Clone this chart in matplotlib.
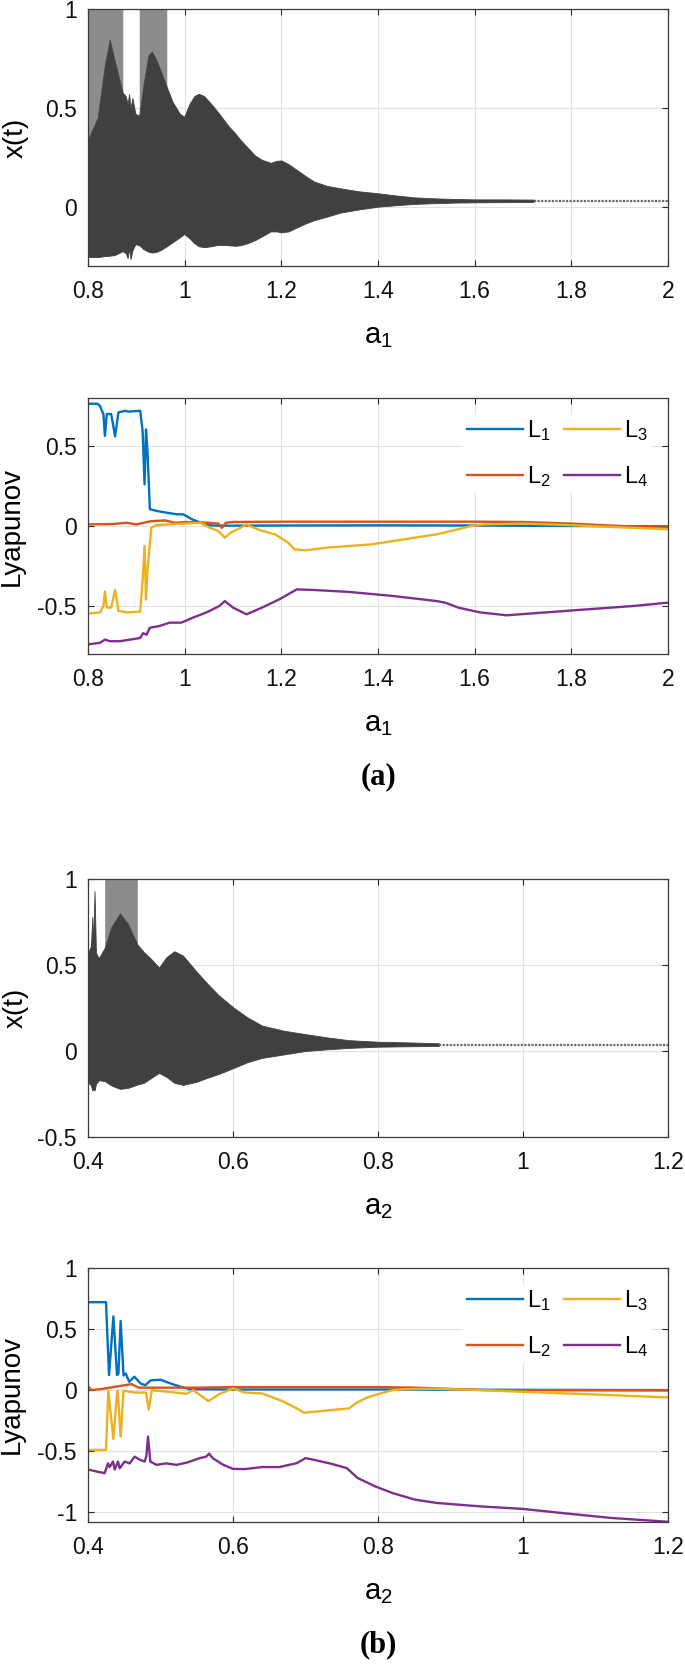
import numpy as np
import matplotlib
matplotlib.use("Agg")
import matplotlib.pyplot as plt

plt.rcParams["font.family"] = ["Liberation Sans", "DejaVu Sans"]
plt.rcParams["mathtext.fontset"] = "custom"
plt.rcParams["mathtext.rm"] = "Liberation Sans"
plt.rcParams["mathtext.it"] = "Liberation Sans:italic"

# ---- panel (a): bifurcation envelope of x(t) vs a1 ----
a1_env = [0.800, 0.820, 0.835, 0.845, 0.855, 0.872, 0.878, 0.882, 0.885, 0.888,
          0.892, 0.898, 0.906, 0.915, 0.925, 0.932, 0.940, 0.950, 0.963, 0.975,
          0.990, 0.999, 1.010, 1.020, 1.029, 1.040, 1.055, 1.070, 1.090, 1.105,
          1.115, 1.130, 1.145, 1.160, 1.178, 1.190, 1.200, 1.215, 1.232, 1.250,
          1.268, 1.295, 1.322, 1.360, 1.400, 1.440, 1.476, 1.520, 1.560, 1.602,
          1.660, 1.722]
a1_up = [0.34, 0.45, 0.72, 0.845, 0.74, 0.575, 0.56, 0.52, 0.57, 0.50,
         0.55, 0.47, 0.46, 0.62, 0.765, 0.785, 0.75, 0.69, 0.605, 0.53,
         0.47, 0.455, 0.52, 0.56, 0.571, 0.56, 0.52, 0.475, 0.41, 0.37,
         0.339, 0.30, 0.26, 0.237, 0.222, 0.232, 0.234, 0.215, 0.186, 0.155,
         0.127, 0.105, 0.093, 0.078, 0.068, 0.056, 0.047, 0.042, 0.039, 0.037,
         0.037, 0.036]
a1_lo = [-0.254, -0.255, -0.25, -0.248, -0.245, -0.225, -0.235, -0.26, -0.21, -0.265,
         -0.22, -0.19, -0.195, -0.215, -0.228, -0.232, -0.23, -0.22, -0.20, -0.18,
         -0.155, -0.138, -0.16, -0.185, -0.2, -0.205, -0.2, -0.193, -0.195, -0.198,
         -0.195, -0.185, -0.17, -0.15, -0.125, -0.125, -0.13, -0.125, -0.105, -0.085,
         -0.068, -0.05, -0.03, -0.014, 0.0, 0.008, 0.014, 0.018, 0.021, 0.022,
         0.023, 0.024]
a1_light = [(0.800, 0.872), (0.906, 0.963)]   # sparse bands reaching x=1
a1_tail = ([1.722, 2.0], [0.03, 0.03])          # settled fixed point

# ---- panel (a): Lyapunov exponents vs a1 ----
a1_L1 = [0.800, 0.820, 0.825, 0.832, 0.835, 0.839, 0.848, 0.856, 0.863, 0.877,
         0.883, 0.908, 0.913, 0.917, 0.920, 0.923, 0.928, 0.942, 0.963, 0.984,
         0.997, 1.015, 1.033, 1.042, 1.069, 1.2, 1.4, 1.6, 1.8, 2.0]
L1_a = [0.764, 0.764, 0.749, 0.698, 0.563, 0.70, 0.70, 0.56, 0.71, 0.72,
        0.715, 0.72, 0.594, 0.26, 0.604, 0.47, 0.105, 0.094, 0.083, 0.073,
        0.073, 0.042, 0.021, 0.006, 0.002, 0.003, 0.004, 0.003, 0.0, -0.002]
a1_L2 = [0.80, 0.85, 0.88, 0.90, 0.93, 0.96, 0.98, 1.00, 1.05, 1.07,
         1.077, 1.085, 1.10, 1.20, 1.40, 1.60, 1.70, 1.80, 1.90, 2.00]
L2_a = [0.01, 0.012, 0.02, 0.01, 0.03, 0.035, 0.02, 0.025, 0.02, 0.015,
        -0.012, 0.02, 0.025, 0.027, 0.027, 0.027, 0.025, 0.015, 0.0, -0.01]
a1_L3 = [0.800, 0.825, 0.832, 0.835, 0.839, 0.848, 0.856, 0.863, 0.880, 0.908,
         0.913, 0.917, 0.920, 0.923, 0.931, 0.942, 0.997, 1.033, 1.051, 1.069,
         1.083, 1.096, 1.110, 1.128, 1.142, 1.160, 1.187, 1.214, 1.227, 1.250,
         1.295, 1.340, 1.386, 1.431, 1.476, 1.521, 1.539, 1.566, 1.593, 1.620,
         1.702, 1.792, 1.883, 2.000]
L3_a = [-0.548, -0.54, -0.50, -0.41, -0.51, -0.51, -0.40, -0.53, -0.54, -0.535,
        -0.34, -0.125, -0.46, -0.28, -0.01, 0.006, 0.015, 0.02, -0.01, -0.03,
        -0.073, -0.04, -0.02, 0.01, -0.01, -0.03, -0.052, -0.104, -0.146, -0.152,
        -0.135, -0.125, -0.115, -0.094, -0.073, -0.052, -0.04, -0.02, 0.0, 0.01,
        0.015, 0.006, -0.006, -0.02]
a1_L4 = [0.800, 0.825, 0.835, 0.845, 0.866, 0.887, 0.908, 0.914, 0.921, 0.928,
         0.948, 0.969, 0.993, 1.017, 1.045, 1.072, 1.083, 1.100, 1.128, 1.160,
         1.196, 1.214, 1.232, 1.268, 1.340, 1.431, 1.521, 1.539, 1.566, 1.611,
         1.666, 1.747, 1.837, 1.928, 2.000]
L4_a = [-0.74, -0.73, -0.71, -0.72, -0.72, -0.71, -0.70, -0.67, -0.68, -0.636,
        -0.625, -0.604, -0.604, -0.573, -0.54, -0.50, -0.469, -0.51, -0.552, -0.51,
        -0.458, -0.427, -0.396, -0.40, -0.412, -0.4375, -0.469, -0.479, -0.51, -0.54,
        -0.558, -0.54, -0.52, -0.50, -0.479]

# ---- panel (b): bifurcation envelope of x(t) vs a2 ----
a2_env = [0.400, 0.404, 0.406, 0.407, 0.409, 0.411, 0.415, 0.423, 0.432, 0.444,
          0.455, 0.468, 0.477, 0.486, 0.498, 0.508, 0.519, 0.531, 0.549, 0.565,
          0.580, 0.600, 0.620, 0.640, 0.670, 0.700, 0.730, 0.760, 0.800, 0.850,
          0.884]
a2_up = [0.57, 0.61, 0.78, 0.60, 0.93, 0.57, 0.54, 0.60, 0.72, 0.80,
         0.74, 0.62, 0.575, 0.54, 0.485, 0.545, 0.58, 0.555, 0.465, 0.39,
         0.325, 0.255, 0.195, 0.148, 0.118, 0.098, 0.079, 0.063, 0.054, 0.049,
         0.045]
a2_lo = [-0.18, -0.2, -0.23, -0.22, -0.23, -0.19, -0.17, -0.175, -0.2, -0.22,
         -0.215, -0.195, -0.185, -0.16, -0.127, -0.15, -0.185, -0.197, -0.18, -0.155,
         -0.134, -0.1, -0.065, -0.04, -0.02, 0.0, 0.01, 0.018, 0.025, 0.028,
         0.029]
a2_light = [(0.423, 0.468)]
a2_tail = ([0.884, 1.2], [0.036, 0.036])

# ---- panel (b): Lyapunov exponents vs a2 ----
a2_L1 = [0.400, 0.4248, 0.429, 0.435, 0.440, 0.442, 0.445, 0.449, 0.452, 0.457,
         0.464, 0.4726, 0.479, 0.4864, 0.500, 0.514, 0.528, 0.540, 0.60, 0.80,
         1.00, 1.20]
L1_b = [0.72, 0.72, 0.123, 0.604, 0.123, 0.136, 0.566, 0.12, 0.136, 0.068,
        0.11, 0.054, 0.04, 0.08, 0.085, 0.054, 0.027, 0.008, 0.005, 0.005,
        0.002, 0.0]
a2_L2 = [0.400, 0.405, 0.420, 0.440, 0.460, 0.470, 0.500, 0.550, 0.600, 0.800,
         0.850, 0.900, 0.950, 1.200]
L2_b = [0.03, 0.0, 0.01, 0.03, 0.049, 0.02, 0.02, 0.02, 0.025, 0.025,
        0.02, 0.01, 0.0, -0.002]
a2_L3 = [0.400, 0.4248, 0.428, 0.435, 0.440, 0.441, 0.445, 0.449, 0.465, 0.480,
         0.4837, 0.488, 0.536, 0.545, 0.566, 0.582, 0.600, 0.616, 0.640, 0.652,
         0.670, 0.688, 0.698, 0.712, 0.736, 0.760, 0.769, 0.784, 0.800, 0.820,
         0.839, 0.880, 0.941, 1.000, 1.122, 1.200]
L3_b = [-0.49, -0.49, -0.005, -0.40, -0.03, -0.005, -0.38, -0.005, -0.02, -0.02,
        -0.16, 0.0, -0.03, 0.0, -0.09, -0.03, 0.014, -0.02, -0.027, -0.054,
        -0.095, -0.15, -0.185, -0.177, -0.163, -0.15, -0.109, -0.063, -0.033, 0.0,
        0.008, 0.011, 0.0, -0.014, -0.041, -0.06]
a2_L4 = [0.400, 0.4115, 0.4230, 0.4276, 0.4299, 0.4345, 0.4368, 0.4414, 0.4437, 0.4506,
         0.4575, 0.4644, 0.4713, 0.4782, 0.4805, 0.4828, 0.486, 0.4943, 0.508, 0.522,
         0.536, 0.554, 0.563, 0.567, 0.572, 0.586, 0.600, 0.616, 0.640, 0.664,
         0.688, 0.700, 0.712, 0.736, 0.757, 0.772, 0.796, 0.820, 0.851, 0.881,
         0.941, 1.000, 1.061, 1.122, 1.200]
L4_b = [-0.65, -0.666, -0.68, -0.60, -0.63, -0.585, -0.65, -0.585, -0.64, -0.585,
        -0.60, -0.545, -0.57, -0.585, -0.54, -0.38, -0.585, -0.612, -0.60, -0.612,
        -0.594, -0.557, -0.545, -0.52, -0.557, -0.61, -0.645, -0.647, -0.63, -0.63,
        -0.598, -0.557, -0.571, -0.604, -0.639, -0.72, -0.788, -0.843, -0.897, -0.924,
        -0.952, -0.973, -1.011, -1.047, -1.078]

C_L = ["#0072BD", "#D95319", "#EDB120", "#7E2F8E"]
LEG = [r"$\mathregular{L_1}$", r"$\mathregular{L_2}$", r"$\mathregular{L_3}$", r"$\mathregular{L_4}$"]

W, H = 685, 1666
fig = plt.figure(figsize=(W / 100, H / 100), dpi=100)


def add_ax(top_px, bot_px):
    return fig.add_axes([88 / W, 1 - bot_px / H, 580 / W, (bot_px - top_px) / H])


def style(ax, xlim, ylim, xt, xtl, yt, ytl, xlab, ylab, ylab_x):
    ax.set_xlim(xlim)
    ax.set_ylim(ylim)
    ax.set_xticks(xt)
    ax.set_xticklabels(xtl)
    ax.set_yticks(yt)
    ax.set_yticklabels(ytl)
    ax.set_axisbelow(True)
    ax.grid(True, color="#e2e2e2", lw=0.8)
    ax.tick_params(direction="in", top=True, right=True, length=4.5, width=0.8,
                   color="#262626", labelsize=16.5, labelcolor="#111111")
    ax.tick_params(axis="x", pad=10)
    ax.tick_params(axis="y", pad=8)
    for s in ax.spines.values():
        s.set_color("#3a3a3a")
        s.set_linewidth(0.9)
    ax.set_xlabel(xlab, fontsize=21, va="center")
    h = ax.get_position().height * H
    ax.xaxis.set_label_coords(0.5, -70 / h)
    ax.set_ylabel(ylab, fontsize=20, va="center")
    ax.yaxis.set_label_coords(ylab_x, 0.5)


def draw_env(ax, a, up, lo, light, tail):
    a = np.asarray(a)
    up = np.asarray(up)
    for lo_a, hi_a in light:
        m = (a >= lo_a) & (a <= hi_a)
        ax.fill_between(a, up, 1.0, where=m, color="#8c8c8c", lw=0)
    ax.fill_between(a, lo, up, color="#404040", lw=0.6, edgecolor="#404040")
    ax.plot(tail[0], tail[1], color="#6a6a6a", lw=1.6, ls=(0, (1, 0.6)), clip_on=False)


def draw_lyap(ax, series):
    for (xs, ys), c, lab in zip(series, C_L, LEG):
        ax.plot(xs, ys, color=c, lw=1.7, label=lab)
    ax.legend(ncol=2, loc="upper right", fontsize=17, frameon=True, fancybox=False,
              framealpha=1, facecolor="white", edgecolor="none",
              handlelength=2.4, handletextpad=0.15, columnspacing=0.55,
              labelspacing=0.9, borderaxespad=0.7, borderpad=0.15)


x1 = [0.8, 1.0, 1.2, 1.4, 1.6, 1.8, 2.0]
x1l = ["0.8", "1", "1.2", "1.4", "1.6", "1.8", "2"]
x2 = [0.4, 0.6, 0.8, 1.0, 1.2]
x2l = ["0.4", "0.6", "0.8", "1", "1.2"]

ax1 = add_ax(9, 266)
draw_env(ax1, a1_env, a1_up, a1_lo, a1_light, a1_tail)
style(ax1, (0.8, 2.0), (-0.3, 1.0), x1, x1l, [0, 0.5, 1], ["0", "0.5", "1"],
      r"$\mathregular{a_1}$", "x(t)", -0.124)

ax2 = add_ax(398, 654)
draw_lyap(ax2, [(a1_L1, L1_a), (a1_L2, L2_a), (a1_L3, L3_a), (a1_L4, L4_a)])
style(ax2, (0.8, 2.0), (-0.8, 0.8), x1, x1l, [-0.5, 0, 0.5], ["-0.5", "0", "0.5"],
      r"$\mathregular{a_1}$", "Lyapunov", -0.131)

ax3 = add_ax(879, 1137)
draw_env(ax3, a2_env, a2_up, a2_lo, a2_light, a2_tail)
style(ax3, (0.4, 1.2), (-0.5, 1.0), x2, x2l, [-0.5, 0, 0.5, 1], ["-0.5", "0", "0.5", "1"],
      r"$\mathregular{a_2}$", "x(t)", -0.124)

ax4 = add_ax(1268, 1522)
draw_lyap(ax4, [(a2_L1, L1_b), (a2_L2, L2_b), (a2_L3, L3_b), (a2_L4, L4_b)])
style(ax4, (0.4, 1.2), (-1.08, 1.0), x2, x2l, [-1, -0.5, 0, 0.5, 1],
      ["-1", "-0.5", "0", "0.5", "1"], r"$\mathregular{a_2}$", "Lyapunov", -0.131)

for lab, ypx in (("(a)", 777), ("(b)", 1645)):
    fig.text(378 / W, 1 - ypx / H, lab, ha="center", va="center",
             family="Liberation Serif", weight="bold", fontsize=22)

fig.savefig("out.png", dpi=100)
